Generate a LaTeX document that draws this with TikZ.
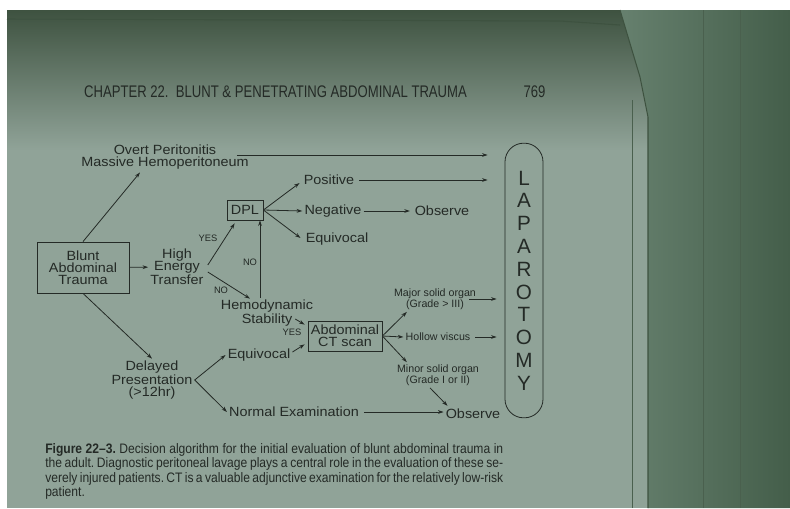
\documentclass[tikz,border=0pt]{standalone}
\usepackage{fontspec}
\setmainfont{Liberation Sans}
\newfontfamily\condfont[FakeStretch=0.78]{Liberation Sans}
\newfontfamily\capfont[FakeStretch=0.88, Ligatures=TeX]{Liberation Sans}
\newfontfamily\widefont[FakeStretch=1.08]{Liberation Sans}
\frenchspacing
\usetikzlibrary{arrows.meta,calc}
\definecolor{pagegreen}{RGB}{144,163,152}
\definecolor{pagedark}{RGB}{62,82,64}
\definecolor{sidegreen}{RGB}{102,128,110}
\definecolor{sidedark}{RGB}{68,94,74}
\definecolor{ink}{RGB}{36,42,38}
\tikzset{
	lab/.style = {font = \widefont\fontsize{10pt}{9pt}\selectfont, text = ink, align = center, inner sep = 1.5pt},
	smalllab/.style = {font = \fontsize{8pt}{6.6pt}\selectfont, text = ink, align = center, inner sep = 1.5pt},
	yn/.style = {font = \fontsize{7pt}{7pt}\selectfont, text = ink, inner sep = 0pt},
	box/.style = {lab, draw = ink, line width = 0.6pt},
	arr/.style = {draw = ink, line width = 0.6pt, -{Stealth[length = 4.2pt, width = 2.8pt]}}
}
\begin{document}
\begin{tikzpicture}[x = 0.75pt, y = -0.75pt]
	\useasboundingbox (0,0) rectangle (790,508);
	% the photographed page
	\fill [white] (0,0) rectangle (790,508);
	\fill [pagegreen] (7,10) rectangle (790,508);
	\shade [top color = pagedark, bottom color = pagegreen] (7,10) rectangle (648,150);
	\shade [left color = sidegreen, right color = sidedark] (620,10) -- (640,77) -- (648,117) -- (648,508) -- (790,508) -- (790,10) -- cycle;
	\draw [pagedark, line width = 0.8pt] (7,19) -- (560,21) -- (620,25);
	\draw [pagedark, line width = 0.8pt] (620,10) -- (640,77) -- (648,117) -- (648,508);
	\draw [pagedark!70!sidegreen, line width = 0.5pt] (632,100) -- (632,508) (703,10) -- (703,508) (740,10) -- (740,508);
	% header and caption
	\node [font = \condfont\fontsize{12.6pt}{14pt}\selectfont, text = ink] (chap) at (275.5,92) {CHAPTER 22.\ \ BLUNT \& PENETRATING ABDOMINAL TRAUMA};
	\node [font = \condfont\fontsize{12.6pt}{14pt}\selectfont, text = ink] (pg) at (534.5,92) {769};
	\node [font = \capfont\fontsize{10.3pt}{10.9pt}\selectfont, text = ink, align = left, inner sep = 0pt, anchor = north west] (cap) at (45,443)
		{\makebox[343.5pt][s]{{\bfseries Figure 22--3.} Decision algorithm for the initial evaluation of blunt abdominal trauma in}\\
		\makebox[343.5pt][s]{the adult. Diagnostic peritoneal lavage plays a central role in the evaluation of these se-}\\
		\makebox[343.5pt][s]{verely injured patients. CT is a valuable adjunctive examination for the relatively low-risk}\\
		patient.};
	% algorithm
	\node [box, minimum width = 69pt, minimum height = 38.25pt] (blunt) at (83,267.5) {Blunt\\Abdominal\\Trauma};
	\node [lab] (overt) at (165,157) {Overt Peritonitis\\Massive Hemoperitoneum};
	\node [lab] (high) at (177,267) {High\\Energy\\Transfer};
	\node [box, minimum width = 27pt, minimum height = 15pt, inner sep = 1pt] (dpl) at (245,210) {DPL};
	\node [lab] (pos) at (329,180) {Positive};
	\node [lab] (neg) at (333,211) {Negative};
	\node [lab] (obsA) at (442,211) {Observe};
	\node [lab] (eqA) at (337,239) {Equivocal};
	\node [lab] (hemo) at (267,313) {Hemodynamic\\Stability};
	\node [box, minimum width = 55.5pt, minimum height = 22.5pt, inner sep = 1pt] (ct) at (345,336) {Abdominal\\CT scan};
	\node [smalllab] (major) at (435,299) {Major solid organ\\(Grade > III)};
	\node [smalllab] (hollow) at (438,337) {Hollow viscus};
	\node [smalllab] (minor) at (438,375) {Minor solid organ\\(Grade I or II)};
	\node [lab] (delay) at (152,380) {Delayed\\Presentation\\(>12hr)};
	\node [lab] (eqB) at (259,355) {Equivocal};
	\node [lab] (normal) at (294,412) {Normal Examination};
	\node [lab] (obsB) at (473,414) {Observe};
	\node [box, rounded corners = 14pt, minimum width = 28.5pt, minimum height = 206pt, font = \fontsize{15.5pt}{17.1pt}\selectfont] (lap) at (524,280.5) {L\\A\\P\\A\\R\\O\\T\\O\\M\\Y};
	\node [yn] (yes1) at (208,238) {YES};
	\node [yn] (no1) at (221,290) {NO};
	\node [yn] (no2) at (250,262) {NO};
	\node [yn] (yes2) at (292,332) {YES};
	\coordinate (lapA) at ($(lap.west)+(-17,0)$);
	\coordinate (lapB) at ($(lap.west)+(-8,0)$);
	\coordinate (ov) at ($(overt.east)+(-14,-2)$);
	\coordinate (hs) at ($(hemo.north)+(-7,0)$);
	\coordinate (mj) at ($(major.east)+(-9,0)$);
	\draw [arr] (blunt) -- (high);
	\draw [arr] (blunt.north) -- ($(overt.south)+(-25,1)$);
	\draw [arr] (blunt.south) -- (delay.north);
	\draw [arr] (ov) -- (ov -| lapA);
	\draw [arr] ($(high.east)+(2,-2)$) -- ($(dpl.south west)+(8,3)$);
	\draw [arr] ($(high.east)+(2,5)$) -- ($(hemo.north)+(-17,1)$);
	\draw [arr] (hs) -- (hs |- dpl.south);
	\draw [arr] (dpl.east) -- ($(pos.west)+(-2,3)$);
	\draw [arr] (dpl.east) -- (neg.west);
	\draw [arr] (dpl.east) -- ($(eqA.west)+(-3,-1)$);
	\draw [arr, shorten >= 2pt] (neg.east) -- (obsA.west);
	\draw [arr, shorten <= 2pt] (pos.east) -- (pos.east -| lapA);
	\draw [arr] ($(hemo.east)+(-20,6)$) -- ($(ct.north west)+(-3,4)$);
	\draw [arr] ($(eqB.east)+(0,-3)$) -- ($(ct.south west)+(-3,-7)$);
	\draw [arr] (delay.east) -- (eqB.west);
	\draw [arr] (delay.east) -- (normal.west);
	\draw [arr] (ct.east) -- ($(major.south west)+(15,0)$);
	\draw [arr] (mj) -- (mj -| lapB);
	\draw [arr] (ct.east) -- (hollow.west);
	\draw [arr, shorten <= 2pt] (hollow.east) -- (hollow.east -| lapB);
	\draw [arr] (ct.east) -- ($(minor.north west)+(12,0)$);
	\draw [arr] ($(minor.south)+(-8,0)$) -- ($(obsB.north west)+(4,-1)$);
	\draw [arr, shorten <= 2pt] (normal.east) -- (normal.east -| obsB.west);
\end{tikzpicture}
\end{document}
